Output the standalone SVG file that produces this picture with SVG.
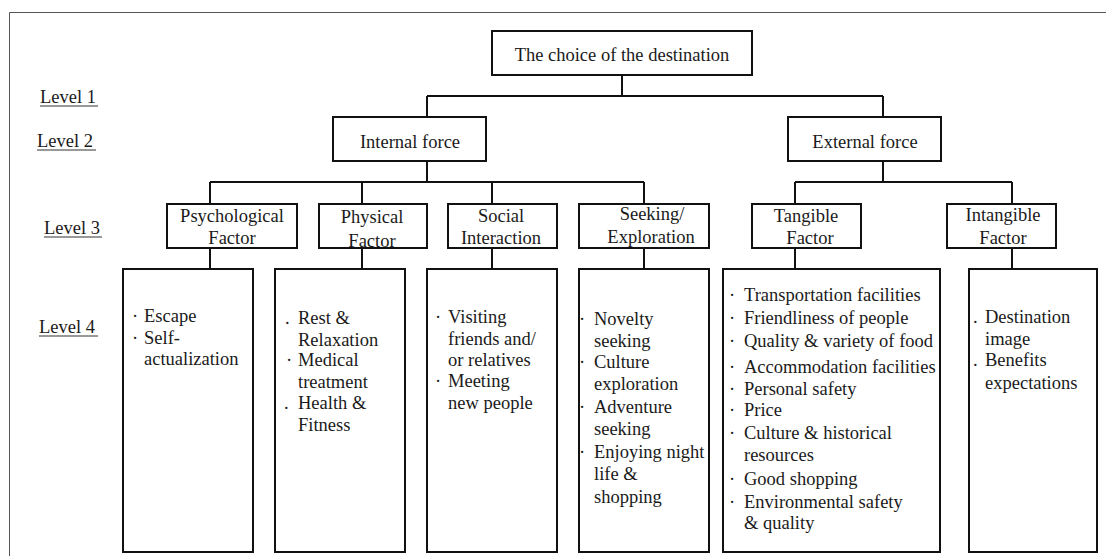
<svg xmlns="http://www.w3.org/2000/svg" width="1106" height="556" viewBox="0 0 1106 556">
<style>
.bx{fill:#fff;stroke:#111;stroke-width:2}
.cn{fill:none;stroke:#111;stroke-width:2}
.t{font-family:"Liberation Serif","Times New Roman",serif;font-size:18.5px;fill:#1a1a1a}
.m{text-anchor:middle}
.u{stroke:#333;stroke-width:1}
</style>
<rect width="1106" height="556" fill="#fff"/>
<path d="M9.5 560V12.5H1110" fill="none" stroke="#555" stroke-width="1"/>
<g id="levels">
<text class="t" x="40" y="103">Level 1</text><line class="u" x1="40" y1="106" x2="98" y2="106"/>
<text class="t" x="37" y="147">Level 2</text><line class="u" x1="37" y1="150" x2="96" y2="150"/>
<text class="t" x="44" y="234">Level 3</text><line class="u" x1="44" y1="237" x2="102" y2="237"/>
<text class="t" x="39" y="333">Level 4</text><line class="u" x1="39" y1="336" x2="98" y2="336"/>
</g>
<g id="connectors">
<path class="cn" d="M622 75V96M427 96H883M427 96V117M883 96V117"/>
<path class="cn" d="M427 161V182M210 182H644M210 182V204M362 182V204M492 182V204M644 182V204"/>
<path class="cn" d="M883 161V182M795 182H1012M795 182V204M1012 182V204"/>
<path class="cn" d="M210 248V269M362 248V269M492 248V269M644 248V269M795 248V269M1012 248V269"/>
</g>
<g id="root"><rect class="bx" x="492" y="31" width="260" height="44"/><text class="t m" x="622" y="61">The choice of the destination</text></g>
<g id="internal"><rect class="bx" x="333" y="117" width="153" height="44"/><text class="t m" x="410" y="148">Internal force</text></g>
<g id="external"><rect class="bx" x="788" y="117" width="153" height="44"/><text class="t m" x="865" y="148">External force</text></g>
<g id="psychological"><rect class="bx" x="167" y="204" width="130" height="44"/><text class="t m" x="232" y="222">Psychological</text><text class="t m" x="232" y="244">Factor</text></g>
<g id="physical"><rect class="bx" x="319" y="204" width="108" height="44"/><text class="t m" x="372" y="223">Physical</text><text class="t m" x="372" y="247">Factor</text></g>
<g id="social"><rect class="bx" x="448" y="204" width="109" height="44"/><text class="t m" x="501" y="222">Social</text><text class="t m" x="501" y="244">Interaction</text></g>
<g id="seeking"><rect class="bx" x="579" y="204" width="130" height="44"/><text class="t m" x="652" y="220">Seeking/</text><text class="t m" x="651" y="243">Exploration</text></g>
<g id="tangible"><rect class="bx" x="752" y="204" width="109" height="44"/><text class="t m" x="806" y="222">Tangible</text><text class="t m" x="810" y="244">Factor</text></g>
<g id="intangible"><rect class="bx" x="947" y="204" width="109" height="44"/><text class="t m" x="1003" y="221">Intangible</text><text class="t m" x="1003" y="244">Factor</text></g>
<g id="psych-items"><rect class="bx" x="123" y="269" width="130" height="283"/>
<text class="t" x="132" y="322">·</text><text class="t" x="144" y="322">Escape</text>
<text class="t" x="132" y="344">·</text><text class="t" x="144" y="344">Self-</text>
<text class="t" x="144" y="365">actualization</text></g>
<g id="physical-items"><rect class="bx" x="275" y="269" width="130" height="283"/>
<text class="t" x="285" y="324">.</text><text class="t" x="298" y="324">Rest &amp;</text>
<text class="t" x="298" y="346">Relaxation</text>
<text class="t" x="286" y="366">·</text><text class="t" x="298" y="366">Medical</text>
<text class="t" x="298" y="388">treatment</text>
<text class="t" x="284" y="409">.</text><text class="t" x="298" y="409">Health &amp;</text>
<text class="t" x="298" y="431">Fitness</text></g>
<g id="social-items"><rect class="bx" x="427" y="269" width="130" height="283"/>
<text class="t" x="435" y="323">·</text><text class="t" x="448" y="323">Visiting</text>
<text class="t" x="448" y="345">friends and/</text>
<text class="t" x="448" y="366">or relatives</text>
<text class="t" x="435" y="387">·</text><text class="t" x="448" y="387">Meeting</text>
<text class="t" x="448" y="409">new people</text></g>
<g id="seeking-items"><rect class="bx" x="579" y="269" width="130" height="283"/>
<text class="t" x="579" y="325">·</text><text class="t" x="594" y="325">Novelty</text>
<text class="t" x="594" y="347">seeking</text>
<text class="t" x="579" y="368">·</text><text class="t" x="594" y="368">Culture</text>
<text class="t" x="594" y="390">exploration</text>
<text class="t" x="579" y="413">·</text><text class="t" x="594" y="413">Adventure</text>
<text class="t" x="594" y="435">seeking</text>
<text class="t" x="579" y="458">·</text><text class="t" x="594" y="458">Enjoying night</text>
<text class="t" x="594" y="480">life &amp;</text>
<text class="t" x="594" y="503">shopping</text></g>
<g id="tangible-items"><rect class="bx" x="723" y="269" width="217" height="283"/>
<text class="t" x="729" y="301">·</text><text class="t" x="744" y="301">Transportation facilities</text>
<text class="t" x="729" y="324">·</text><text class="t" x="744" y="324">Friendliness of people</text>
<text class="t" x="729" y="347">·</text><text class="t" x="744" y="347">Quality &amp; variety of food</text>
<text class="t" x="729" y="373">·</text><text class="t" x="744" y="373">Accommodation facilities</text>
<text class="t" x="729" y="395">·</text><text class="t" x="744" y="395">Personal safety</text>
<text class="t" x="729" y="416">·</text><text class="t" x="744" y="416">Price</text>
<text class="t" x="729" y="439">·</text><text class="t" x="744" y="439">Culture &amp; historical</text>
<text class="t" x="744" y="461">resources</text>
<text class="t" x="729" y="485">·</text><text class="t" x="744" y="485">Good shopping</text>
<text class="t" x="729" y="508">·</text><text class="t" x="744" y="508">Environmental safety</text>
<text class="t" x="744" y="529">&amp; quality</text></g>
<g id="intangible-items"><rect class="bx" x="969" y="269" width="128" height="283"/>
<text class="t" x="973" y="323">.</text><text class="t" x="985" y="323">Destination</text>
<text class="t" x="985" y="345">image</text>
<text class="t" x="973" y="366">.</text><text class="t" x="985" y="366">Benefits</text>
<text class="t" x="985" y="389">expectations</text></g>
</svg>
